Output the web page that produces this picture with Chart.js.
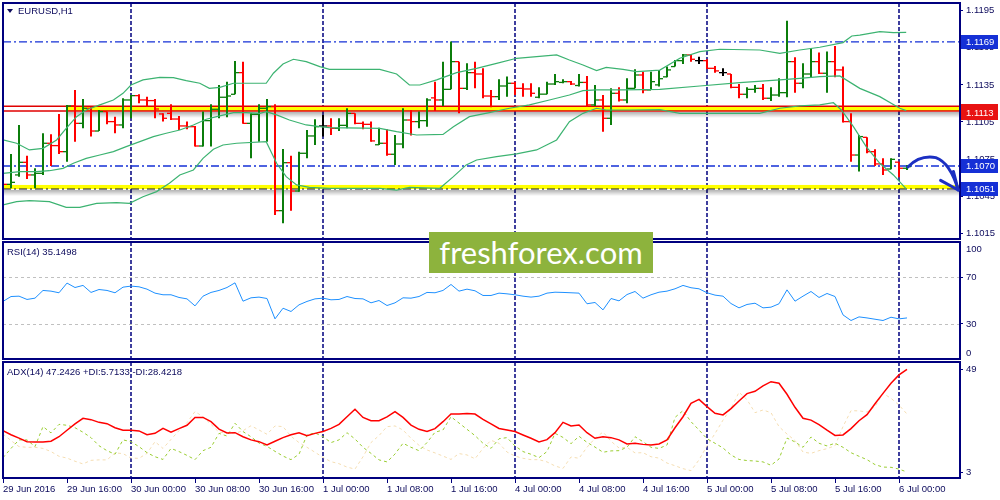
<!DOCTYPE html>
<html>
<head>
<meta charset="utf-8">
<title>EURUSD,H1</title>
<script src="https://cdn.jsdelivr.net/npm/chart.js@4.4.1/dist/chart.umd.min.js"></script>
<style>
  html, body { margin: 0; padding: 0; background: #fff; }
  #wrap { position: relative; width: 1000px; height: 500px; overflow: hidden; background: #fff; }
  #wrap canvas { position: absolute; left: 0; }
  .title { position: absolute; left: 7px; font: 9.5px 'Liberation Sans', Arial, sans-serif; line-height: 11px; color: #0c0a5c; white-space: nowrap; }
  .tri { position: absolute; left: 7px; top: 9px; width: 0; height: 0; border-left: 3px solid transparent; border-right: 3px solid transparent; border-top: 4px solid #0c0a5c; }
  #logo { position: absolute; left: 429px; top: 232px; width: 224px; height: 41px; background: #8db33d; color: #fff; font: 31px Lato, 'Open Sans', sans-serif; line-height: 41px; text-align: center; }
</style>
</head>
<body>
<div id="wrap">
  <canvas id="pricePane" width="1000" height="241" style="top:0"></canvas>
  <canvas id="rsiPane" width="1000" height="121" style="top:240px"></canvas>
  <canvas id="adxPane" width="1000" height="140" style="top:360px"></canvas>
  <div class="tri"></div>
  <div class="title" style="left:18px; top:5px">EURUSD,H1</div>
  <div class="title" style="top:246px">RSI(14) 35.1498</div>
  <div class="title" style="top:366px">ADX(14) 47.2426 +DI:5.7133 -DI:28.4218</div>
  <div id="logo">freshforex.com</div>
</div>
<script>
// time axis: one label every 8 hourly bars, starting 29 Jun 08:00
const timeLabels = ['29 Jun 2016', '29 Jun 16:00', '30 Jun 00:00', '30 Jun 08:00', '30 Jun 16:00',
  '1 Jul 00:00', '1 Jul 08:00', '1 Jul 16:00', '4 Jul 00:00', '4 Jul 08:00', '4 Jul 16:00',
  '5 Jul 00:00', '5 Jul 08:00', '5 Jul 16:00', '6 Jul 00:00'];
const gridBars = [16, 40, 64, 88, 112]; // dashed separators at 00:00

// EURUSD H1 bars
const open = [1.10635,1.10546,1.10622,1.10724,1.10622,1.10635,1.10878,1.10859,1.10810,1.11180,
  1.11039,1.11161,1.10977,1.11134,1.11053,1.11026,1.11228,1.11263,1.11228,1.11223,
  1.11115,1.11120,1.11074,1.11018,1.11012,1.10856,1.11061,1.11153,1.11250,1.11274,
  1.11449,1.11039,1.11112,1.11161,1.11174,1.10333,1.10721,1.10492,1.10797,1.10937,
  1.11018,1.11018,1.10999,1.11023,1.11120,1.11039,1.11031,1.10866,1.10878,1.10789,
  1.10872,1.11066,1.11053,1.11061,1.11245,1.11228,1.11314,1.11538,1.11322,1.11449,
  1.11438,1.11260,1.11255,1.11341,1.11363,1.11322,1.11317,1.11250,1.11275,1.11357,
  1.11370,1.11376,1.11345,1.11370,1.11188,1.11228,1.11080,1.11282,1.11228,1.11322,
  1.11430,1.11309,1.11350,1.11415,1.11498,1.11546,1.11592,1.11546,1.11546,1.11484,
  1.11449,1.11438,1.11330,1.11274,1.11314,1.11322,1.11242,1.11268,1.11287,1.11538,
  1.11363,1.11438,1.11538,1.11444,1.11538,1.11471,1.11053,1.10783,1.10926,1.10810,
  1.10711,1.10670,1.10725,1.10676];
const high = [1.10694,1.10791,1.11026,1.10778,1.10676,1.10959,1.10950,1.11115,1.11188,1.11309,
  1.11236,1.11170,1.11147,1.11134,1.11093,1.11242,1.11268,1.11274,1.11255,1.11236,
  1.11120,1.11193,1.11099,1.11053,1.11018,1.11134,1.11193,1.11349,1.11376,1.11543,
  1.11538,1.11120,1.11193,1.11236,1.11193,1.10832,1.10778,1.10810,1.10985,1.11072,
  1.11107,1.11080,1.11080,1.11161,1.11120,1.11053,1.11053,1.11004,1.10991,1.10945,
  1.11161,1.11147,1.11134,1.11242,1.11376,1.11538,1.11700,1.11538,1.11524,1.11538,
  1.11484,1.11309,1.11395,1.11417,1.11376,1.11363,1.11363,1.11330,1.11376,1.11438,
  1.11395,1.11382,1.11438,1.11422,1.11349,1.11268,1.11322,1.11330,1.11403,1.11476,
  1.11457,1.11457,1.11471,1.11498,1.11551,1.11600,1.11600,1.11578,1.11557,1.11503,
  1.11484,1.11438,1.11357,1.11330,1.11349,1.11357,1.11330,1.11403,1.11869,1.11573,
  1.11524,1.11646,1.11611,1.11619,1.11665,1.11498,1.11120,1.10945,1.10926,1.10829,
  1.10756,1.10756,1.10729,1.10703];
const low = [1.10541,1.10514,1.10608,1.10589,1.10514,1.10622,1.10694,1.10791,1.10729,1.10891,
  1.10999,1.10932,1.10977,1.11031,1.10959,1.10999,1.11080,1.11201,1.11174,1.11080,
  1.11053,1.11066,1.10985,1.10991,1.10851,1.10851,1.10851,1.11080,1.11088,1.11274,
  1.11035,1.10756,1.10891,1.10891,1.10298,1.10231,1.10333,1.10487,1.10756,1.10864,
  1.10932,1.10945,1.10977,1.10999,1.11031,1.10991,1.10891,1.10864,1.10778,1.10703,
  1.10837,1.10940,1.10999,1.11012,1.11139,1.11180,1.11314,1.11120,1.11309,1.11322,
  1.11242,1.11169,1.11228,1.11255,1.11268,1.11255,1.11255,1.11242,1.11274,1.11349,
  1.11363,1.11349,1.11336,1.11174,1.11180,1.10972,1.11026,1.11215,1.11201,1.11322,
  1.11282,1.11309,1.11336,1.11411,1.11498,1.11519,1.11538,1.11519,1.11479,1.11449,
  1.11422,1.11322,1.11242,1.11242,1.11287,1.11228,1.11220,1.11255,1.11250,1.11287,
  1.11322,1.11411,1.11438,1.11287,1.11411,1.11045,1.10729,1.10649,1.10797,1.10694,
  1.10622,1.10667,1.10603,1.10662];
const close = [1.10546,1.10562,1.10724,1.10622,1.10635,1.10878,1.10859,1.10810,1.11180,1.11039,
  1.11161,1.10977,1.11134,1.11053,1.11026,1.11228,1.11263,1.11228,1.11223,1.11155,
  1.11080,1.11074,1.11018,1.11012,1.10856,1.11061,1.11153,1.11250,1.11260,1.11449,
  1.11039,1.11112,1.11161,1.11174,1.10333,1.10721,1.10492,1.10797,1.10937,1.11012,
  1.11018,1.10999,1.11023,1.11120,1.11039,1.11031,1.10897,1.10878,1.10789,1.10872,
  1.11066,1.11053,1.11061,1.11228,1.11228,1.11314,1.11538,1.11322,1.11449,1.11438,
  1.11260,1.11255,1.11341,1.11363,1.11322,1.11317,1.11282,1.11275,1.11357,1.11376,
  1.11376,1.11357,1.11370,1.11188,1.11228,1.11080,1.11282,1.11228,1.11322,1.11430,
  1.11309,1.11376,1.11400,1.11471,1.11546,1.11592,1.11557,1.11546,1.11484,1.11463,
  1.11449,1.11330,1.11274,1.11314,1.11322,1.11242,1.11268,1.11287,1.11538,1.11363,
  1.11438,1.11538,1.11444,1.11538,1.11471,1.11053,1.10783,1.10932,1.10810,1.10711,
  1.10662,1.10748,1.10676,1.10689];

// Bollinger bands, [bar, price]
const bbUpper = [[0,1.10905],[1.7,1.10878],[3.3,1.10824],[5,1.10837],[6.7,1.10905],[7.9,1.10999],[9.2,1.11093],
  [10.4,1.11147],[12.1,1.11188],[13.8,1.11228],[15,1.11282],[16,1.11349],[17.5,1.11390],[19.6,1.11411],
  [21.3,1.11409],[22.9,1.11384],[24.6,1.11363],[25.8,1.11322],[27.1,1.11330],[28.8,1.11363],[32.9,1.11363],
  [33.8,1.11444],[35,1.11519],[36.3,1.11557],[37.9,1.11538],[39.6,1.11498],[40.8,1.11476],[47.1,1.11476],
  [49.2,1.11438],[50.8,1.11349],[52.1,1.11349],[54.2,1.11390],[56.7,1.11449],[59.2,1.11484],[61.7,1.11524],
  [64.2,1.11565],[66.7,1.11578],[69.2,1.11592],[70.8,1.11551],[72.5,1.11511],[74.2,1.11465],[75.4,1.11492],
  [77.5,1.11476],[79.2,1.11457],[82.1,1.11470],[84.6,1.11565],[87.1,1.11619],[89.6,1.11638],[94.6,1.11632],
  [97.1,1.11605],[99.6,1.11632],[102.1,1.11654],[105,1.11692],[106.1,1.11745],[107.1,1.11753],[109.6,1.11780],
  [111.3,1.11772],[112.9,1.11775]];
const bbMiddle = [[0,1.10635],[2.1,1.10649],[4.2,1.10649],[5.8,1.10656],[7.5,1.10675],[8.8,1.10716],[10.4,1.10756],
  [12.1,1.10783],[13.8,1.10810],[15.4,1.10851],[17.1,1.10891],[18.8,1.10932],[20.4,1.10959],[22.1,1.10985],
  [23.8,1.11026],[25.4,1.11072],[27.1,1.11099],[28.8,1.11126],[30.4,1.11126],[32.1,1.11120],[32.9,1.11134],
  [34.2,1.11107],[35.8,1.11066],[37.9,1.11026],[39.6,1.11012],[40.8,1.11005],[47.1,1.10999],[49.2,1.10972],
  [51.7,1.10945],[55,1.10950],[56.3,1.11012],[58.3,1.11093],[60.8,1.11126],[63.3,1.11161],[65.8,1.11188],
  [68.3,1.11228],[70.8,1.11268],[72.5,1.11303],[74.2,1.11309],[77.5,1.11309],[82.1,1.11314],[87.1,1.11341],
  [92.1,1.11368],[97.1,1.11390],[99.6,1.11403],[102.1,1.11417],[104.6,1.11422],[107.1,1.11322],[109.6,1.11255],
  [112.1,1.11161],[112.9,1.11142]];
const bbLower = [[0,1.10379],[1.7,1.10406],[3.3,1.10414],[5.8,1.10406],[7.9,1.10360],[9.6,1.10360],[11.7,1.10392],
  [14.2,1.10398],[15.8,1.10392],[17.5,1.10446],[19.2,1.10487],[20.8,1.10554],[22.1,1.10622],[23.8,1.10662],
  [25,1.10756],[26.3,1.10829],[27.5,1.10864],[29.2,1.10878],[32.9,1.10891],[34.2,1.10716],[35.4,1.10608],
  [36.7,1.10541],[38.3,1.10522],[40.8,1.10514],[47.1,1.10514],[49.2,1.10500],[50.8,1.10522],[54.6,1.10514],
  [56.3,1.10608],[57.9,1.10703],[59.2,1.10743],[61.7,1.10770],[64.2,1.10792],[66.7,1.10824],[69.2,1.10905],
  [70.8,1.11053],[72.5,1.11120],[74.2,1.11161],[75.4,1.11147],[78.3,1.11147],[82.1,1.11150],[84.6,1.11120],
  [88.8,1.11120],[94.6,1.11120],[97.1,1.11161],[99.6,1.11180],[102.1,1.11188],[103.8,1.11206],[104.8,1.11147],
  [106.3,1.11012],[107.9,1.10851],[109.6,1.10716],[111.3,1.10622],[112.9,1.10509]];

// RSI(14)
const rsi = [49.2,53.4,53.7,50.9,52.0,58.6,58.0,56.6,64.9,61.1,
  62.9,56.9,59.4,58.6,56.6,61.4,62.3,61.7,59.7,56.3,
  54.9,54.9,52.6,51.4,45.4,53.7,56.9,58.6,61.1,65.1,
  49.4,52.3,52.9,51.7,34.3,43.4,40.6,46.3,49.2,51.4,
  52.0,50.6,50.9,53.4,51.7,51.4,48.0,50.0,45.7,48.0,
  52.3,52.0,53.4,56.9,56.6,58.6,63.7,58.0,59.7,58.3,
  54.3,54.3,56.3,55.7,54.9,53.7,52.9,53.7,56.3,57.1,
  56.9,56.6,56.3,47.2,48.3,42.0,51.7,49.7,55.1,57.7,
  52.0,54.9,57.1,58.0,60.0,62.9,60.9,60.0,56.6,54.6,
  53.7,47.4,43.7,46.6,47.7,43.7,44.3,47.2,59.1,49.4,
  53.7,57.7,52.6,56.0,53.4,37.7,32.9,36.0,35.1,34.0,
  32.9,35.7,34.3,35.1];

// ADX(14), +DI, -DI
const adx = [21.7,19.9,18.4,16.8,16.7,16.7,17.0,19.0,21.9,24.7,
  27.2,26.6,25.4,24.8,23.0,21.9,21.9,21.6,19.9,20.5,
  22.7,21.0,22.6,24.1,27.6,27.6,25.7,22.4,20.7,20.8,
  19.0,17.6,16.8,15.3,17.0,18.6,19.9,20.8,19.5,20.5,
  21.3,22.7,24.5,27.9,31.2,27.6,26.1,26.1,27.8,30.2,
  27.6,24.2,22.3,21.3,22.6,25.7,29.1,29.1,29.3,29.1,
  26.7,24.7,22.7,22.0,21.3,19.8,18.3,16.7,17.7,20.8,
  25.4,23.8,24.2,20.8,18.3,19.0,18.6,17.6,15.8,16.1,
  15.6,15.3,15.8,17.6,23.0,27.9,33.9,35.6,32.4,29.4,
  28.7,31.5,34.9,38.2,39.2,41.6,43.5,42.8,37.9,32.1,
  27.2,26.4,24.4,21.9,19.6,19.8,22.6,26.1,28.8,33.7,
  38.3,42.8,46.5,49.0];
const plusDI = [9.7,13.8,17.6,17.6,14.6,23.5,20.7,24.5,24.1,23.0,
  21.0,18.6,15.0,12.8,11.2,17.6,16.8,14.6,11.9,10.1,
  8.9,13.8,12.4,10.7,8.8,12.8,14.3,20.5,19.3,25.0,
  21.3,19.0,16.2,14.7,12.5,10.4,8.8,11.2,19.8,20.7,
  19.0,16.4,17.6,20.8,18.0,14.3,11.6,8.7,7.8,11.3,
  16.1,14.3,12.8,16.4,21.0,22.0,27.9,25.1,22.3,19.5,
  16.1,13.8,18.1,18.6,14.9,12.4,11.2,9.7,12.4,20.5,
  18.7,15.9,19.2,16.5,14.4,12.1,12.7,12.8,14.3,19.0,
  16.8,14.3,13.8,15.3,27.6,30.6,25.7,22.0,18.1,16.1,
  14.0,10.9,8.9,8.4,8.2,7.8,6.3,9.1,18.4,16.7,
  14.3,18.9,16.1,14.9,16.1,14.3,11.9,10.3,8.8,6.6,
  5.5,5.4,4.6,3.3];
const minusDI = [20.2,17.3,14.6,14.3,14.3,13.8,12.4,10.3,9.5,8.1,
  6.9,8.5,8.7,8.7,11.8,11.5,9.5,9.4,11.6,16.8,
  13.8,17.8,21.7,25.3,30.2,27.9,24.5,21.0,20.8,20.5,
  21.7,23.9,22.0,20.1,23.8,23.5,19.2,16.4,14.3,12.1,
  9.8,7.9,7.0,5.5,4.6,10.1,16.4,19.5,23.5,23.8,
  22.0,18.3,15.2,13.1,11.8,10.4,8.9,11.5,10.9,9.2,
  13.8,17.4,16.1,12.2,10.4,9.4,8.8,8.8,7.8,6.0,
  4.9,10.0,9.4,14.3,18.3,21.1,17.0,14.0,14.3,11.8,
  11.9,10.1,9.5,7.3,6.1,4.8,3.9,8.7,14.9,20.4,
  26.4,31.6,38.8,35.5,29.7,30.9,29.7,23.5,20.2,17.3,
  12.2,11.6,12.8,13.7,15.0,23.5,30.6,30.5,30.0,32.4,
  38.3,36.1,33.1,29.1];

// axis ticks
const priceTicks = [1.1015, 1.1045, 1.1075, 1.1105, 1.1135, 1.1165, 1.1195];
const rsiTicks = [30, 70];
const rsiLevels = [30, 70];
const adxTicks = [3, 49];

// drawn objects on the price chart
const resistTop = 1.11177, resistBottom = 1.11139, resistFromBar = 8;
const supportTop = 1.10541, supportLine = 1.10508;
const highLine = 1.11697, currentLine = 1.10694;
const priceBoxes = [
  { price: 1.11697, text: '1.1169', color: '#1530d6' },
  { price: 1.11140, text: '1.1118', color: '#e81212' },
  { price: 1.11125, text: '1.1113', color: '#e81212' },
  { price: 1.10694, text: '1.1070', color: '#1530d6' },
  { price: 1.10508, text: '1.1051', color: '#1530d6' }
];
// hand drawn forecast arrow, [bar, price]
const arrowPath = [[113.1, 1.10686], [114.6, 1.10785], [116.6, 1.10762], [118.4, 1.10720], [119.4, 1.10500]];
const arrowHead = [[117.2, 1.10578], [119.4, 1.10500], [118.8, 1.10650]];

const NAVY = '#00007f';
const TXT = '#0c0a5c';
const FONT = "'Liberation Sans', Arial, sans-serif";
const X_MAX = 119.625;
const UP = '#0b7d0b', DOWN = '#ff0000', DOJI = '#000000';
const barColors = close.map((c, i) => c > open[i] ? UP : (c < open[i] ? DOWN : DOJI));

function yAxis(min, max, ticks, fmt) {
  return {
    position: 'right', min: min, max: max,
    // fixed width, and no extra room for half labels (MT4 keeps panes edge to edge)
    afterFit: s => { s.width = 40; s.paddingTop = 0; s.paddingBottom = 0; },
    afterBuildTicks: s => { s.ticks = ticks.map(v => ({ value: v })); },
    ticks: { color: TXT, font: { family: FONT, size: 9.5 }, padding: 3, autoSkip: false, callback: fmt },
    grid: { drawOnChartArea: false, tickLength: 3, color: NAVY },
    border: { color: NAVY, width: 2 }
  };
}

function hiddenX() {
  return { type: 'linear', min: 0, max: X_MAX, display: false, offset: false };
}

function drawVerticals(chart) {
  const { ctx, chartArea: a, scales: { x } } = chart;
  ctx.save();
  ctx.strokeStyle = NAVY;
  ctx.lineWidth = 1.5;
  ctx.setLineDash([4, 2]);
  gridBars.forEach(b => {
    const px = Math.round(x.getPixelForValue(b));
    ctx.beginPath();
    ctx.moveTo(px, a.top);
    ctx.lineTo(px, a.bottom);
    ctx.stroke();
  });
  ctx.restore();
}

function drawFrame(chart) {
  const { ctx, chartArea: a } = chart;
  ctx.save();
  ctx.strokeStyle = NAVY;
  ctx.lineWidth = 2;
  ctx.strokeRect(a.left, a.top, a.right - a.left, a.bottom - a.top);
  ctx.restore();
}

function hLine(ctx, a, py, color, dash, width) {
  ctx.save();
  ctx.strokeStyle = color;
  ctx.lineWidth = width;
  ctx.setLineDash(dash);
  ctx.beginPath();
  ctx.moveTo(a.left, py);
  ctx.lineTo(a.right, py);
  ctx.stroke();
  ctx.restore();
}

function shadow(ctx, x0, x1, py) {
  const g = ctx.createLinearGradient(0, py, 0, py + 6);
  g.addColorStop(0, 'rgba(0,0,0,0.30)');
  g.addColorStop(1, 'rgba(0,0,0,0)');
  ctx.fillStyle = g;
  ctx.fillRect(x0, py, x1 - x0, 6);
}

const pricePlugin = {
  id: 'pricePane',
  beforeDatasetsDraw(chart) {
    const { ctx, chartArea: a, scales: { x, y } } = chart;
    ctx.save();
    ctx.beginPath();
    ctx.rect(a.left, a.top, a.right - a.left, a.bottom - a.top);
    ctx.clip();
    drawVerticals(chart);

    // resistance zone
    const rT = y.getPixelForValue(resistTop), rB = y.getPixelForValue(resistBottom);
    const rx = x.getPixelForValue(resistFromBar);
    ctx.fillStyle = '#ffff00';
    ctx.fillRect(rx, rT, a.right - rx, rB - rT);
    shadow(ctx, rx, a.right, rB + 1);
    hLine(ctx, a, rT, '#e00000', [], 1.5);
    hLine(ctx, a, rB, '#e00000', [], 1.5);

    // support zone
    const sT = y.getPixelForValue(supportTop), sB = y.getPixelForValue(supportLine);
    ctx.fillStyle = '#ffff00';
    ctx.fillRect(a.left, sT, a.right - a.left, sB - sT);
    shadow(ctx, a.left, a.right, sB + 1);
    hLine(ctx, a, sB, '#101030', [8, 3, 2, 3], 1);

    hLine(ctx, a, y.getPixelForValue(highLine), '#1530d6', [8, 3, 2, 3], 1.3);
    hLine(ctx, a, y.getPixelForValue(currentLine), '#1530d6', [8, 3, 2, 3], 1.3);
    ctx.restore();
  },
  afterDraw(chart) {
    const { ctx, chartArea: a, scales: { x, y } } = chart;
    drawFrame(chart);

    // price boxes on the axis
    ctx.save();
    ctx.font = '9.5px ' + FONT;
    ctx.textBaseline = 'middle';
    priceBoxes.forEach(b => {
      const py = Math.round(y.getPixelForValue(b.price));
      ctx.fillStyle = b.color;
      ctx.fillRect(a.right + 1, py - 7, 37, 14);
      ctx.fillStyle = '#ffffff';
      ctx.fillText(b.text, a.right + 6, py + 0.5);
    });
    ctx.restore();

    // forecast arrow
    const P = p => [x.getPixelForValue(p[0]), y.getPixelForValue(p[1])];
    const pts = arrowPath.map(P);
    const head = arrowHead.map(P);
    ctx.save();
    ctx.strokeStyle = '#1b2fc2';
    ctx.lineWidth = 3;
    ctx.lineCap = 'round';
    ctx.lineJoin = 'round';
    ctx.beginPath();
    ctx.moveTo(pts[0][0], pts[0][1]);
    ctx.quadraticCurveTo(pts[1][0], pts[1][1], pts[2][0], pts[2][1]);
    ctx.quadraticCurveTo(pts[3][0], pts[3][1], pts[4][0], pts[4][1]);
    ctx.stroke();
    ctx.beginPath();
    ctx.moveTo(head[0][0], head[0][1]);
    ctx.lineTo(head[1][0], head[1][1]);
    ctx.lineTo(head[2][0], head[2][1]);
    ctx.stroke();
    ctx.restore();
  }
};

const rsiPlugin = {
  id: 'rsiPane',
  beforeDatasetsDraw(chart) {
    const { ctx, chartArea: a, scales: { y } } = chart;
    drawVerticals(chart);
    rsiLevels.forEach(v => hLine(ctx, a, Math.round(y.getPixelForValue(v)) + 0.5, '#c0c0c0', [3, 3], 1));
  },
  afterDraw(chart) {
    const { ctx, chartArea: a } = chart;
    drawFrame(chart);
    ctx.save();
    ctx.font = '9.5px ' + FONT;
    ctx.fillStyle = TXT;
    ctx.textBaseline = 'middle';
    ctx.fillText('100', a.right + 6, a.top + 7);
    ctx.fillText('0', a.right + 6, a.bottom - 6);
    ctx.restore();
  }
};

const adxPlugin = {
  id: 'adxPane',
  beforeDatasetsDraw(chart) { drawVerticals(chart); },
  afterDraw(chart) { drawFrame(chart); }
};

const baseOptions = {
  responsive: false, animation: false, devicePixelRatio: 1, events: [],
  plugins: { legend: { display: false }, tooltip: { enabled: false } }
};

function bandDs(pairs) {
  return {
    type: 'line', data: pairs.map(p => ({ x: p[0], y: p[1] })),
    borderColor: '#3cb371', borderWidth: 1.2, pointRadius: 0
  };
}

function tickDs(values, rotation) {
  return {
    type: 'line', showLine: false,
    data: values.map((v, i) => ({ x: i, y: v })),
    pointStyle: 'dash', pointRadius: 4, pointRotation: rotation,
    pointBorderWidth: 1.3, pointBorderColor: barColors, pointBackgroundColor: barColors
  };
}

new Chart(document.getElementById('pricePane'), {
  type: 'bar',
  data: {
    datasets: [
      bandDs(bbUpper), bandDs(bbMiddle), bandDs(bbLower),
      tickDs(close, 0), tickDs(open, 180),
      {
        type: 'bar', data: high.map((h, i) => ({ x: i, y: [low[i], h] })),
        backgroundColor: barColors, barThickness: 2, inflateAmount: 0, grouped: false
      }
    ]
  },
  options: Object.assign({}, baseOptions, {
    layout: { autoPadding: false, padding: { left: 3, top: 3, right: 0, bottom: 2 } },
    scales: {
      x: hiddenX(),
      y: yAxis(1.10104, 1.12012, priceTicks, v => v.toFixed(4))
    }
  }),
  plugins: [pricePlugin]
});

new Chart(document.getElementById('rsiPane'), {
  type: 'line',
  data: {
    datasets: [{
      data: rsi.map((v, i) => ({ x: i, y: v })),
      borderColor: '#1e90ff', borderWidth: 1, pointRadius: 0
    }]
  },
  options: Object.assign({}, baseOptions, {
    layout: { autoPadding: false, padding: { left: 3, top: 2, right: 0, bottom: 2 } },
    scales: {
      x: hiddenX(),
      y: yAxis(0, 100, rsiTicks, v => String(v))
    }
  }),
  plugins: [rsiPlugin]
});

new Chart(document.getElementById('adxPane'), {
  type: 'line',
  data: {
    datasets: [
      { data: adx.map((v, i) => ({ x: i, y: v })), borderColor: '#ff0000', borderWidth: 1.5, pointRadius: 0 },
      { data: plusDI.map((v, i) => ({ x: i, y: v })), borderColor: '#9acd32', borderWidth: 1, borderDash: [3, 3], pointRadius: 0 },
      { data: minusDI.map((v, i) => ({ x: i, y: v })), borderColor: '#f5deb3', borderWidth: 1, borderDash: [3, 3], pointRadius: 0 }
    ]
  },
  options: Object.assign({}, baseOptions, {
    layout: { autoPadding: false, padding: { left: 3, top: 2, right: 0, bottom: 0 } },
    scales: {
      x: {
        type: 'linear', min: 0, max: X_MAX, offset: false,
        afterFit: s => { s.height = 22; s.paddingLeft = 0; s.paddingRight = 0; },
        afterBuildTicks: s => { s.ticks = timeLabels.map((t, k) => ({ value: k * 8 })); },
        ticks: {
          color: TXT, font: { family: FONT, size: 9.5 }, align: 'start', padding: 1,
          autoSkip: false, maxRotation: 0, minRotation: 0,
          callback: (v, i) => timeLabels[i]
        },
        grid: { drawOnChartArea: false, tickLength: 5, color: NAVY },
        border: { color: NAVY, width: 2 }
      },
      y: yAxis(0.64, 52.25, adxTicks, v => String(v))
    }
  }),
  plugins: [adxPlugin]
});
</script>
</body>
</html>
